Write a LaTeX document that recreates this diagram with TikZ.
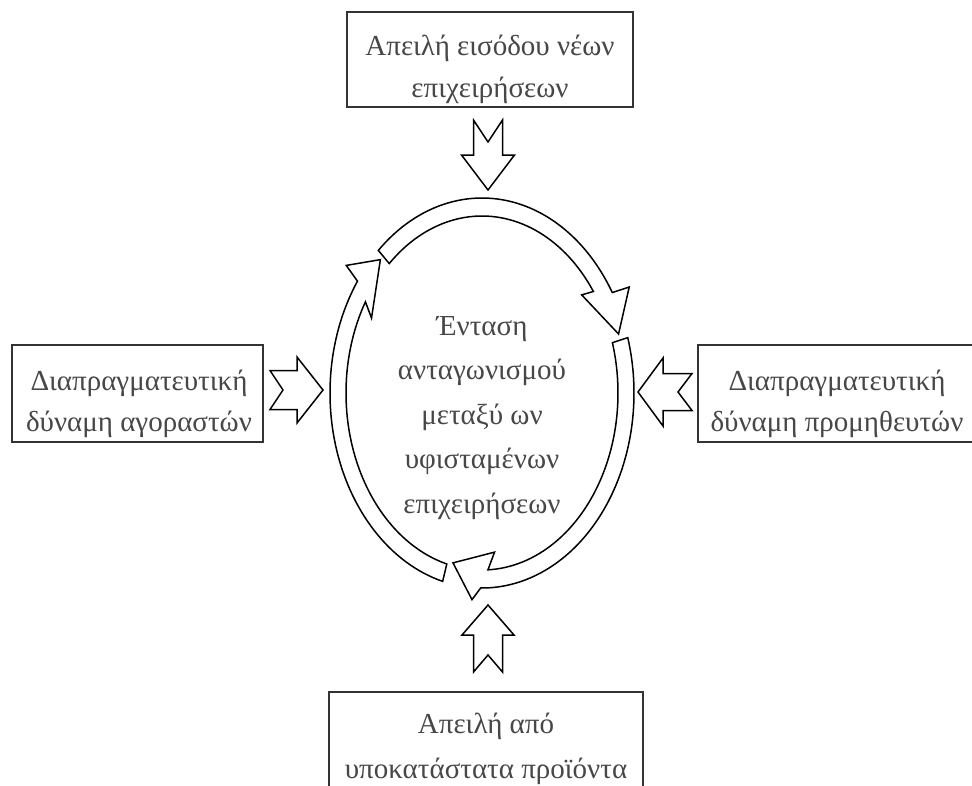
\documentclass[tikz,border=0pt]{standalone}
\usepackage{fontspec}
\setmainfont{Liberation Serif}
\tikzset{
  boxshape/.style={draw=black!80, line width=2pt, fill=white, inner sep=0pt, outer sep=0pt},
  txt/.style={text=black!72, align=center, inner sep=0pt, font=\fontsize{29}{42}\selectfont},
  arrline/.style={draw=black, line width=1.5pt, fill=white, line join=miter},
  pics/blockarr/.style n args={5}{code={%
    \draw[arrline] (0,0) -- (-#2,#4) -- (-#2,#3) -- (-#1,#3) -- (-#1+#5,0)
      -- (-#1,-#3) -- (-#2,-#3) -- (-#2,-#4) -- cycle;}}
}
\newcommand\ringarr[6]{%
  \draw[arrline] (#1:152pt and 195pt)
    arc[start angle=#1, end angle=#2, x radius=152pt, y radius=195pt]
    -- (#3) -- (#4) -- (#5) -- (#6:136pt and 177pt)
    arc[start angle=#6, end angle=#1, x radius=136pt, y radius=177pt] -- cycle;}
\begin{document}
\begin{tikzpicture}[x=1pt,y=-1pt]
\useasboundingbox (0,0) rectangle (972,785);
\clip (0,0) rectangle (972,785);
\fill[white] (0,0) rectangle (972,785);

% boxes
\node[boxshape, minimum width=286pt, minimum height=95pt] (topbox) at (490,59.5) {};
\node[boxshape, minimum width=251pt, minimum height=97pt] (leftbox) at (137.5,393.5) {};
\node[boxshape, minimum width=279pt, minimum height=97pt] (rightbox) at (837.5,393.5) {};
\node[boxshape, minimum width=314pt, minimum height=98pt] (bottombox) at (486,741) {};

% texts (anchor base = baseline of the last line)
\node[txt, anchor=base] (toptext) at (490,97) {Απειλή εισόδου νέων\\επιχειρήσεων};
\node[txt, anchor=base, font=\fontsize{29}{41}\selectfont] (lefttext) at (139,431) {Διαπραγματευτική\\δύναμη αγοραστών};
\node[txt, anchor=base, font=\fontsize{29}{41}\selectfont] (righttext) at (837,431) {Διαπραγματευτική\\δύναμη προμηθευτών};
\node[txt, anchor=base, font=\fontsize{29}{45}\selectfont] (bottomtext) at (486,778) {Απειλή από\\υποκατάστατα προϊόντα};
\node[txt, anchor=base, font=\fontsize{29}{44.5}\selectfont] (centertext) at (482,513) {Ένταση\\ανταγωνισμού\\μεταξύ ων\\υφισταμένων\\επιχειρήσεων};

% block arrows
\pic[rotate=-90] (toparrow) at (488,190) {blockarr={70}{35}{14.5}{26.5}{22}};
\pic[rotate=90] (bottomarrow) at (488,605) {blockarr={67}{30}{14.5}{26}{17}};
\pic (leftarrow) at (323,390) {blockarr={53}{26}{19.5}{33}{13}};
\pic[rotate=180] (rightarrow) at (638,392) {blockarr={54}{25}{18.5}{34}{14}};

% cycle arrows
\begin{scope}[shift={(482,393)}]
  \ringarr{133}{31}{30:170pt and 212pt}{18.5:144pt and 186pt}{36.5:124pt and 165pt}{35}
  \ringarr{16.5}{-90.5}{-93.5:164pt and 207pt}{-102.5:134pt and 174pt}{-84:120pt and 160pt}{-87.5}
  \ringarr{255}{145}{143:170pt and 212pt}{134.5:145pt and 187pt}{153:124pt and 165pt}{149}
\end{scope}
\end{tikzpicture}
\end{document}
